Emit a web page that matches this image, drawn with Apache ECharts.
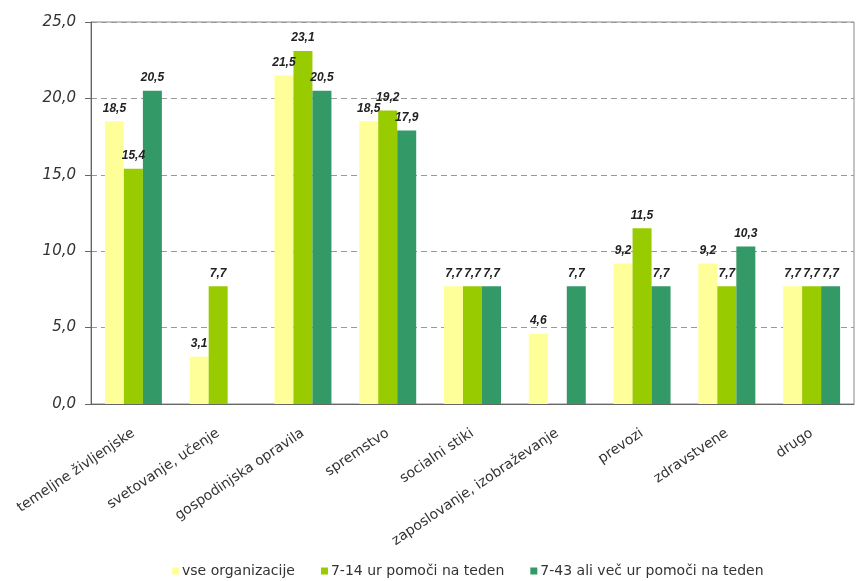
<!DOCTYPE html>
<html>
<head>
<meta charset="utf-8">
<script src="https://cdn.jsdelivr.net/npm/echarts@6/dist/echarts.min.js"></script>
<style>
html,body{margin:0;padding:0;background:#fff;}
#main{width:859px;height:581px;}
</style>
</head>
<body>
<div id="main"></div>
<script>
var categories = ['temeljne življenjske', 'svetovanje, učenje', 'gospodinjska opravila', 'spremstvo',
	'socialni stiki', 'zaposlovanje, izobraževanje', 'prevozi', 'zdravstvene', 'drugo'];
var seriesNames = ['vse organizacije', '7-14 ur pomoči na teden', '7-43 ali več ur pomoči na teden'];
var vseOrg = [18.5, 3.1, 21.5, 18.5, 7.7, 4.6, 9.2, 9.2, 7.7];
var ur7do14 = [15.4, 7.7, 23.1, 19.2, 7.7, null, 11.5, 7.7, 7.7];
var ur7do43 = [20.5, null, 20.5, 17.9, 7.7, 7.7, 7.7, 10.3, 7.7];
var colors = ['#FFFF99', '#99CC00', '#339966'];

function fmt(v){ return v.toFixed(1).replace('.', ','); }

window.onload = function(){
	var myChart = echarts.init(document.getElementById('main'));
	var lbl = {
		show: true,
		position: 'top',
		distance: 7,
		fontFamily: 'Liberation Sans, Arial',
		fontSize: 12,
		fontStyle: 'italic',
		fontWeight: 'bold',
		color: '#222',
		formatter: function(p){ return fmt(p.value); }
	};
	var datas = [vseOrg, ur7do14, ur7do43];
	var series = [];
	for (var i = 0; i < 3; i++) {
		series.push({
			name: seriesNames[i],
			type: 'bar',
			data: datas[i],
			barWidth: 19,
			barGap: '0%',
			itemStyle: { color: colors[i] },
			label: lbl
		});
	}
	var option = {
		animation: false,
		backgroundColor: '#fff',
		color: colors,
		grid: {
			left: 91, right: 5, top: 22, bottom: 177,
			show: true, borderColor: '#888', borderWidth: 1
		},
		legend: {
			top: 559,
			left: 167,
			itemWidth: 7,
			itemHeight: 7,
			itemGap: 26,
			icon: 'rect',
			textStyle: { fontFamily: 'DejaVu Sans', fontSize: 14, color: '#333', padding: [0, 0, 0, -2] },
			data: seriesNames
		},
		xAxis: {
			type: 'category',
			data: categories,
			axisLine: { lineStyle: { color: '#666' } },
			axisTick: { length: 5, lineStyle: { color: '#666' } },
			axisLabel: {
				rotate: 34,
				interval: 0,
				margin: 28,
				fontFamily: 'DejaVu Sans',
				fontSize: 14,
				color: '#333'
			}
		},
		yAxis: {
			type: 'value',
			min: 0, max: 25, interval: 5,
			axisLine: { show: true, lineStyle: { color: '#666' } },
			axisTick: { show: true, length: 6, lineStyle: { color: '#666' } },
			splitLine: { lineStyle: { color: '#999', type: [6, 4] } },
			axisLabel: {
				fontFamily: 'DejaVu Sans',
				fontSize: 15,
				fontStyle: 'italic',
				color: '#333',
				margin: 15,
				formatter: function(v){ return fmt(v); }
			}
		},
		series: series
	};
	myChart.setOption(option);
};
</script>
</body>
</html>
